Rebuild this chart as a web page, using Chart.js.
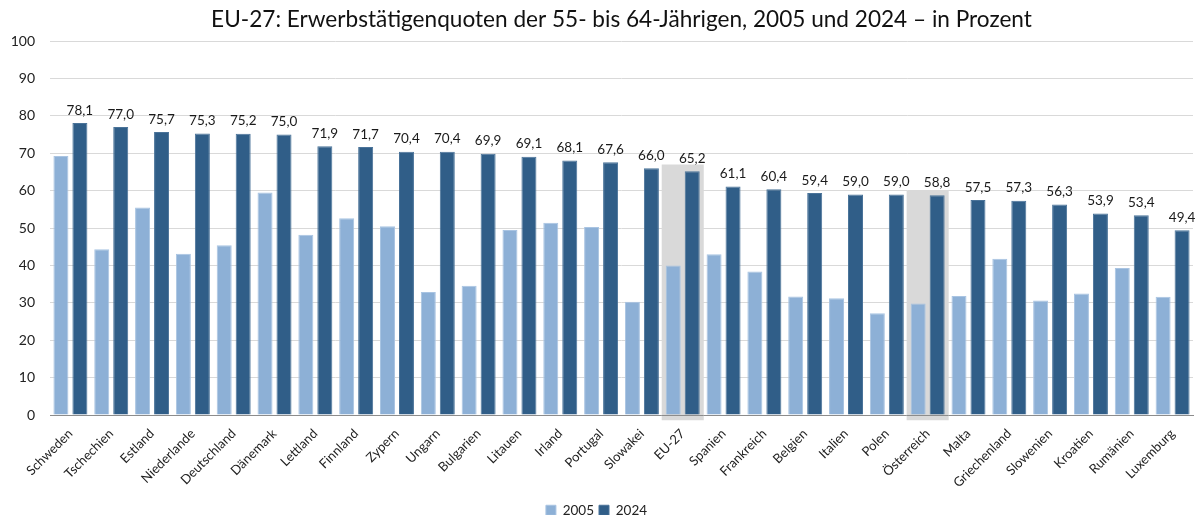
<!DOCTYPE html>
<html>
<head>
<meta charset="utf-8">
<script src="https://cdn.jsdelivr.net/npm/chart.js@4/dist/chart.umd.min.js"></script>
<style>
html,body{margin:0;padding:0;background:#fff;}
#wrap{width:1199px;height:515px;position:relative;}
</style>
</head>
<body>
<div id="wrap"><canvas id="c"></canvas></div>
<script>
const categories = ["Schweden","Tschechien","Estland","Niederlande","Deutschland","Dänemark","Lettland","Finnland","Zypern","Ungarn","Bulgarien","Litauen","Irland","Portugal","Slowakei","EU-27","Spanien","Frankreich","Belgien","Italien","Polen","Österreich","Malta","Griechenland","Slowenien","Kroatien","Rumänien","Luxemburg"];
const values2005 = [69.3,44.3,55.5,43.1,45.4,59.5,48.2,52.6,50.5,32.9,34.6,49.5,51.4,50.3,30.3,40.0,43.0,38.4,31.7,31.2,27.2,29.8,31.8,41.8,30.6,32.5,39.3,31.6];
const values2024 = [78.1,77.0,75.7,75.3,75.2,75.0,71.9,71.7,70.4,70.4,69.9,69.1,68.1,67.6,66.0,65.2,61.1,60.4,59.4,59.0,59.0,58.8,57.5,57.3,56.3,53.9,53.4,49.4];
const highlightCategories = ["EU-27","Österreich"];
const highlightTop = [67.0, 60.0];
const yTicks = [0,10,20,30,40,50,60,70,80,90,100];

const FONT = "Lato, 'Open Sans', sans-serif";
const fmt = v => v.toFixed(1).replace('.', ',');

const highlightPlugin = {
  id: 'highlight',
  beforeDatasetsDraw(chart) {
    const {ctx, scales: {x, y}} = chart;
    const cw = (x.right - x.left) / categories.length;
    ctx.save();
    highlightCategories.forEach((cat, i) => {
      const idx = categories.indexOf(cat);
      const cx = x.getPixelForValue(idx);
      const top = y.getPixelForValue(highlightTop[i]);
      const bottom = y.getPixelForValue(-1.4);
      ctx.fillStyle = '#d9d9d9';
      ctx.fillRect(cx - cw * 0.515, top, cw * 1.03, bottom - top);
      ctx.strokeStyle = '#8c8c8c';
      ctx.lineWidth = 1;
      ctx.beginPath();
      const by = Math.round(y.getPixelForValue(0)) + 0.5;
      ctx.moveTo(cx - cw * 0.515, by);
      ctx.lineTo(cx + cw * 0.515, by);
      ctx.stroke();
    });
    ctx.restore();
  }
};

const labelPlugin = {
  id: 'valueLabels',
  afterDatasetsDraw(chart) {
    const {ctx} = chart;
    const meta = chart.getDatasetMeta(1);
    ctx.save();
    ctx.font = "13.5px " + FONT;
    ctx.fillStyle = '#1a1a1a';
    ctx.textAlign = 'center';
    ctx.textBaseline = 'bottom';
    meta.data.forEach((bar, i) => {
      ctx.fillText(fmt(values2024[i]), bar.x, bar.y - 6);
    });
    ctx.restore();
  }
};

const PAD_BOTTOM = -12;

new Chart(document.getElementById('c'), {
  type: 'bar',
  data: {
    labels: categories,
    datasets: [
      {label: '2005', data: values2005, backgroundColor: '#8db0d6', borderColor: '#a9c4e2', borderWidth: 1,
       categoryPercentage: 0.93, barPercentage: 0.79},
      {label: '2024', data: values2024, backgroundColor: '#305e88', borderColor: '#4a7399', borderWidth: 1,
       categoryPercentage: 0.93, barPercentage: 0.79}
    ]
  },
  options: {
    responsive: true,
    maintainAspectRatio: false,
    animation: false,
    layout: {padding: {left: 0, right: 6, top: 0, bottom: PAD_BOTTOM}},
    plugins: {
      title: {display: true, fullSize: false, text: 'EU-27: Erwerbstätigenquoten der 55- bis 64-Jährigen, 2005 und 2024 – in Prozent',
        color: '#111', font: {family: FONT, size: 22.6, weight: 'normal'}, padding: {top: 6, bottom: 8}},
      legend: {position: 'bottom',
        labels: {color: '#222', font: {family: FONT, size: 13.5}, boxWidth: 10, boxHeight: 10, padding: 5}},
      tooltip: {enabled: false}
    },
    scales: {
      x: {
        grid: {display: false},
        border: {display: true, color: '#8c8c8c', width: 1},
        ticks: {autoSkip: false, maxRotation: 45, minRotation: 45, color: '#222', font: {family: FONT, size: 13}, padding: 3},
        afterFit(scale) {
          const lh = scale.chart.legend ? scale.chart.legend.height : 0;
          scale.height = 515 - 415 - lh - PAD_BOTTOM;
        }
      },
      y: {
        min: 0, max: 100,
        afterBuildTicks(scale) { scale.ticks = yTicks.map(v => ({value: v})); },
        grid: {color: '#d9d9d9', lineWidth: 1, drawTicks: false},
        border: {display: false},
        ticks: {color: '#222', font: {family: FONT, size: 14}, padding: 15},
        afterFit(scale) { scale.width = 50; }
      }
    }
  },
  plugins: [highlightPlugin, labelPlugin]
});
</script>
</body>
</html>
